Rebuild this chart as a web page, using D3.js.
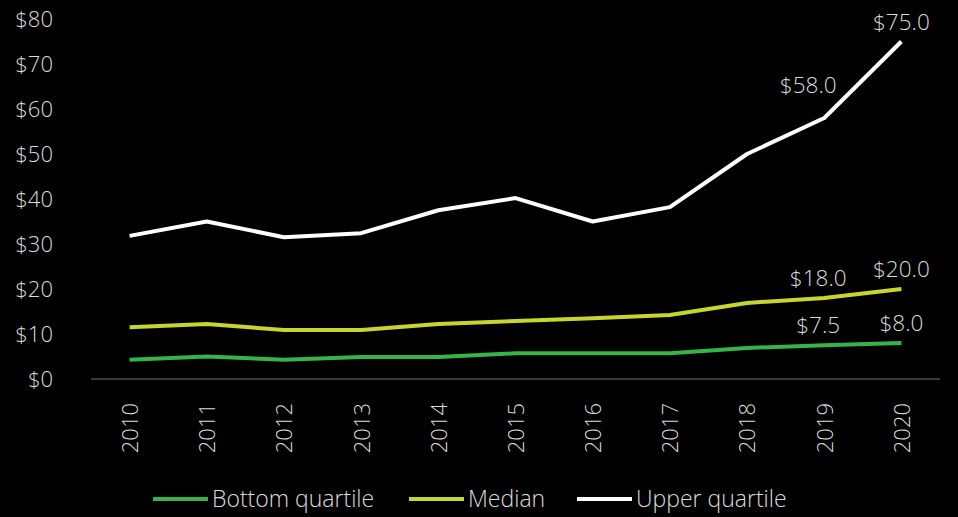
<!DOCTYPE html>
<html>
<head>
<meta charset="utf-8">
<script src="https://cdn.jsdelivr.net/npm/d3@7"></script>
<style>
  html, body { margin: 0; padding: 0; background: #000; }
  svg text { font-family: "Open Sans", sans-serif; font-weight: 300; fill: #dcdcdc; }
</style>
</head>
<body>
<svg id="chart" width="958" height="517"></svg>
<script>
// data
const years = ["2010", "2011", "2012", "2013", "2014", "2015", "2016", "2017", "2018", "2019", "2020"];
const bottomQuartile = [4.3, 5.0, 4.3, 4.9, 4.9, 5.7, 5.7, 5.7, 6.9, 7.5, 8.0];
const median = [11.5, 12.2, 10.9, 10.9, 12.2, 12.9, 13.5, 14.2, 16.9, 18.0, 20.0];
const upperQuartile = [31.8, 35.0, 31.5, 32.4, 37.5, 40.2, 35.0, 38.2, 50.0, 58.0, 75.0];
const yTicks = [0, 10, 20, 30, 40, 50, 60, 70, 80];
const seriesNames = ["Bottom quartile", "Median", "Upper quartile"];
const seriesColors = ["#35b44a", "#c6d62e", "#ffffff"];
// which points carry a value label
const labelled = [
    { s: 0, i: 9 }, { s: 0, i: 10 },
    { s: 1, i: 9 }, { s: 1, i: 10 },
    { s: 2, i: 9 }, { s: 2, i: 10 }
];

const series = [bottomQuartile, median, upperQuartile];

const svg = d3.select("#chart");
const margin = { top: 19, right: 18, bottom: 138, left: 91 };
const W = 958, H = 517;

const x = d3.scalePoint().domain(years)
    .range([margin.left, W - margin.right]).padding(0.5);
const y = d3.scaleLinear().domain([0, 80])
    .range([H - margin.bottom, margin.top]);

// y axis labels (no axis line)
const yAxis = svg.append("g")
    .attr("transform", "translate(" + 53 + ",0)")
    .call(d3.axisLeft(y).tickValues(yTicks).tickSize(0).tickPadding(0)
        .tickFormat(function (d) { return "$" + d; }));
yAxis.select(".domain").remove();
yAxis.selectAll("text").style("font-size", "22px").attr("fill", null);

// x axis: baseline + rotated year labels
const xAxis = svg.append("g")
    .attr("transform", "translate(0," + y(0) + ")")
    .call(d3.axisBottom(x).tickSize(0).tickPadding(0));
xAxis.select(".domain")
    .attr("d", "M" + margin.left + ",0H" + (W - margin.right))
    .attr("stroke", "#4d4d4d").attr("stroke-width", 1.5);
xAxis.selectAll("text")
    .attr("fill", null)
    .style("font-size", "22px")
    .attr("text-anchor", "end")
    .attr("dy", "0.36em")
    .attr("transform", "translate(0,24) rotate(-90)")
    .attr("y", 0).attr("x", 0);

// lines
const line = d3.line()
    .x(function (d, i) { return x(years[i]); })
    .y(function (d) { return y(d); });

svg.append("g").selectAll("path").data(series).enter().append("path")
    .attr("d", line)
    .attr("fill", "none")
    .attr("stroke", function (d, i) { return seriesColors[i]; })
    .attr("stroke-width", 4)
    .attr("stroke-linejoin", "round");

// value labels
svg.append("g").selectAll("text").data(labelled).enter().append("text")
    .attr("x", function (d) { return x(years[d.i]) + (d.i === 9 ? (d.s === 2 ? -16 : -6) : 0); })
    .attr("y", function (d) { return y(series[d.s][d.i]) - (d.s === 2 && d.i === 9 ? 25 : 12); })
    .attr("text-anchor", "middle")
    .style("font-size", "22.5px")
    .text(function (d) { return "$" + series[d.s][d.i].toFixed(1); });

// legend
const legendX = [153, 409, 577];
const legend = svg.append("g").selectAll("g").data(seriesNames).enter().append("g")
    .attr("transform", function (d, i) { return "translate(" + legendX[i] + ",499)"; });
legend.append("line")
    .attr("x1", 0).attr("x2", 55)
    .attr("stroke", function (d, i) { return seriesColors[i]; })
    .attr("stroke-width", 4);
legend.append("text")
    .attr("x", 59).attr("dy", "0.36em")
    .style("font-size", "23px")
    .text(function (d) { return d; });
</script>
</body>
</html>
